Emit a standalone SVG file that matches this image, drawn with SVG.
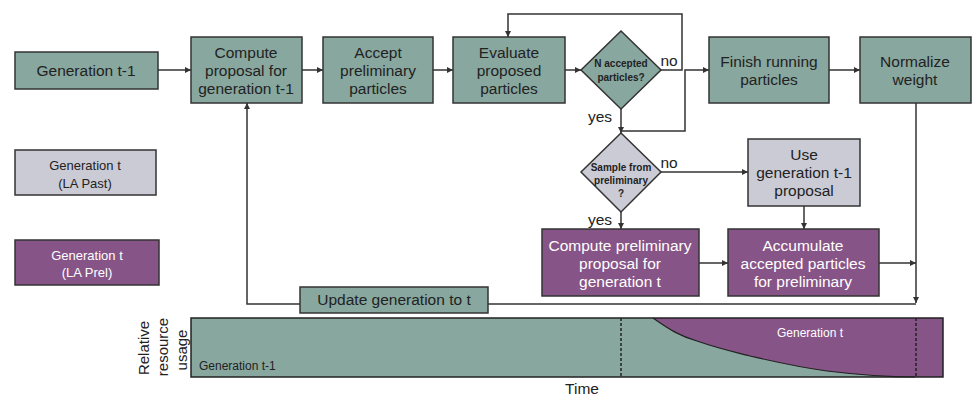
<svg xmlns="http://www.w3.org/2000/svg" width="979" height="396" viewBox="0 0 979 396">
<style>
.g{fill:#88a79f;stroke:#333;stroke-width:1.5}
.p{fill:#875487;stroke:#333;stroke-width:1.5}
.l{fill:#cbcbd5;stroke:#333;stroke-width:1.5}
.t{font-family:"Liberation Sans",Arial,sans-serif;font-size:15.5px;fill:#222;text-anchor:middle}
.s{font-family:"Liberation Sans",Arial,sans-serif;font-size:10px;font-weight:bold;fill:#222;text-anchor:middle}
.lg{font-family:"Liberation Sans",Arial,sans-serif;font-size:13px;fill:#222;text-anchor:middle}
.w{fill:#fff}
.c{fill:none;stroke:#333;stroke-width:1.5}
.d{fill:none;stroke:#222;stroke-width:1.5;stroke-dasharray:3,2}
</style>
<defs>
<marker id="a" viewBox="0 0 10 10" refX="10" refY="5" markerWidth="6" markerHeight="6" markerUnits="userSpaceOnUse" orient="auto">
<path d="M0,0 L10,5 L0,10 Z" fill="#333"/>
</marker>
</defs>
<rect width="979" height="396" fill="#fff"/>

<g id="connectors">
<path class="c" d="M158,70 H191" marker-end="url(#a)"/>
<path class="c" d="M302,70 H323" marker-end="url(#a)"/>
<path class="c" d="M433,70 H453" marker-end="url(#a)"/>
<path class="c" d="M565,70 H581" marker-end="url(#a)"/>
<path class="c" d="M661,70 H682 V14 H508 V37" marker-end="url(#a)"/>
<path class="c" d="M621,109 V133" marker-end="url(#a)"/>
<path class="c" d="M621,131 H685 V70 H709" marker-end="url(#a)"/>
<path class="c" d="M829,70 H860" marker-end="url(#a)"/>
<path class="c" d="M916,103 V303" marker-end="url(#a)"/>
<path class="c" d="M661,172 H748" marker-end="url(#a)"/>
<path class="c" d="M621,212 V229" marker-end="url(#a)"/>
<path class="c" d="M804,206 V229" marker-end="url(#a)"/>
<path class="c" d="M699,263 H728" marker-end="url(#a)"/>
<path class="c" d="M879,263 H916" marker-end="url(#a)"/>
<path class="c" d="M916,304 H488"/>
<path class="c" d="M300,304 H247 V103" marker-end="url(#a)"/>
<text class="t" x="669" y="66">no</text>
<text class="t" x="600" y="122">yes</text>
<text class="t" x="669" y="168">no</text>
<text class="t" x="600" y="225">yes</text>
</g>

<g id="gen-t-1">
<rect class="g" x="15" y="52" width="143" height="37"/>
<text class="t" x="86" y="76">Generation t-1</text>
</g>
<g id="compute-proposal">
<rect class="g" x="191" y="37" width="111" height="66"/>
<text class="t" x="246" y="58">Compute</text>
<text class="t" x="246" y="76">proposal for</text>
<text class="t" x="246" y="94">generation t-1</text>
</g>
<g id="accept-preliminary">
<rect class="g" x="323" y="37" width="110" height="66"/>
<text class="t" x="378" y="58">Accept</text>
<text class="t" x="378" y="76">preliminary</text>
<text class="t" x="378" y="94">particles</text>
</g>
<g id="evaluate">
<rect class="g" x="453" y="37" width="112" height="66"/>
<text class="t" x="509" y="58">Evaluate</text>
<text class="t" x="509" y="76">proposed</text>
<text class="t" x="509" y="94">particles</text>
</g>
<g id="n-accepted">
<path class="g" d="M621,31 L661,70 L621,109 L581,70 Z"/>
<text class="s" x="621" y="67">N accepted</text>
<text class="s" x="621" y="81">particles?</text>
</g>
<g id="finish-running">
<rect class="g" x="709" y="37" width="120" height="66"/>
<text class="t" x="769" y="67">Finish running</text>
<text class="t" x="769" y="85">particles</text>
</g>
<g id="normalize">
<rect class="g" x="860" y="37" width="111" height="66"/>
<text class="t" x="915" y="67">Normalize</text>
<text class="t" x="915" y="85">weight</text>
</g>
<g id="legend-past">
<rect class="l" x="15" y="150" width="141" height="45"/>
<text class="lg" x="85" y="170">Generation t</text>
<text class="lg" x="85" y="188">(LA Past)</text>
</g>
<g id="legend-prel">
<rect class="p" x="15" y="240" width="144" height="45"/>
<text class="lg w" x="87" y="260">Generation t</text>
<text class="lg w" x="87" y="277">(LA Prel)</text>
</g>
<g id="sample-from">
<path class="l" d="M621,133 L661,172 L621,212 L581,172 Z"/>
<text class="s" x="621" y="171">Sample from</text>
<text class="s" x="621" y="184">preliminary</text>
<text class="s" x="621" y="197">?</text>
</g>
<g id="use-gen">
<rect class="l" x="748" y="139" width="112" height="67"/>
<text class="t" x="804" y="160">Use</text>
<text class="t" x="804" y="178">generation t-1</text>
<text class="t" x="804" y="196">proposal</text>
</g>
<g id="compute-preliminary">
<rect class="p" x="542" y="229" width="157" height="67"/>
<text class="t w" x="620" y="251">Compute preliminary</text>
<text class="t w" x="620" y="269">proposal for</text>
<text class="t w" x="620" y="287">generation t</text>
</g>
<g id="accumulate">
<rect class="p" x="728" y="229" width="151" height="67"/>
<text class="t w" x="803" y="251">Accumulate</text>
<text class="t w" x="803" y="269">accepted particles</text>
<text class="t w" x="803" y="287">for preliminary</text>
</g>
<g id="update">
<rect class="g" x="300" y="287" width="188" height="26"/>
<text class="t" x="394" y="305">Update generation to t</text>
</g>

<g id="resource-chart">
<rect x="191" y="318" width="752" height="59" fill="#88a79f"/>
<path d="M653,318 C670,330 680,336 697,341 C720,349 735,352 750,356 C780,363 805,368 827,371 C860,375 890,377 915,377 L943,377 L943,318 Z" fill="#875487"/>
<path d="M653,318 C670,330 680,336 697,341 C720,349 735,352 750,356 C780,363 805,368 827,371 C860,375 890,377 915,377" fill="none" stroke="#222" stroke-width="1.2"/>
<rect x="191" y="318" width="752" height="59" fill="none" stroke="#222" stroke-width="1.5"/>
<path class="d" d="M621,318 V377"/>
<path class="d" d="M916,318 V377"/>
<text font-family="Liberation Sans, Arial, sans-serif" font-size="12" fill="#222" x="199" y="370">Generation t-1</text>
<text font-family="Liberation Sans, Arial, sans-serif" font-size="12" fill="#fff" text-anchor="middle" x="810" y="337">Generation t</text>
<g font-family="Liberation Sans, Arial, sans-serif" font-size="15" fill="#222" text-anchor="middle">
<text transform="translate(149,348) rotate(-90)">Relative</text>
<text transform="translate(168,347) rotate(-90)">resource</text>
<text transform="translate(187,350) rotate(-90)">usage</text>
</g>
<text class="t" x="582" y="394">Time</text>
</g>
</svg>
